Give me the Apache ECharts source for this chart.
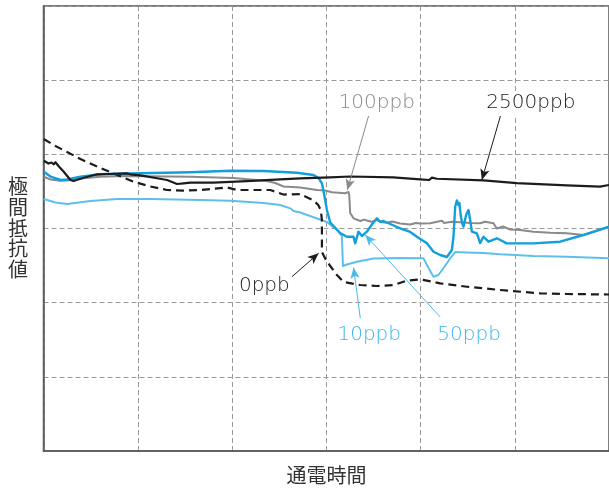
<!DOCTYPE html>
<html>
<head>
<meta charset="utf-8">
<script src="https://cdn.jsdelivr.net/npm/echarts@6/dist/echarts.min.js"></script>
<style>
  html, body { margin: 0; padding: 0; background: #fff; }
  #chart { width: 609px; height: 488px; }
</style>
</head>
<body>
<div id="chart"></div>
<script>
// Resistance between electrodes vs. energizing time, one trace per concentration.
// Each point is [time, resistance] in relative grid units (0..6 on both axes).

const ppb2500 = [
  [0.003, 3.914], [0.053, 3.876], [0.085, 3.890], [0.109, 3.866], [0.127, 3.893],
  [0.159, 3.843], [0.215, 3.766], [0.286, 3.654], [0.318, 3.640], [0.427, 3.685],
  [0.569, 3.731], [0.675, 3.735], [0.887, 3.744], [0.922, 3.731], [1.028, 3.717],
  [1.205, 3.677], [1.311, 3.654], [1.417, 3.600], [1.487, 3.609], [1.558, 3.618],
  [1.805, 3.618], [2.159, 3.640], [2.512, 3.663], [2.724, 3.677], [3.042, 3.688],
  [3.254, 3.701], [3.710, 3.690], [3.997, 3.663], [4.092, 3.654], [4.121, 3.685],
  [4.174, 3.671], [4.668, 3.650], [5.022, 3.613], [5.552, 3.582], [5.905, 3.564],
  [6.000, 3.587]
];

const ppb100 = [
  [0.003, 3.698], [0.074, 3.661], [0.180, 3.644], [0.251, 3.647], [0.392, 3.674],
  [0.604, 3.698], [0.851, 3.708], [1.558, 3.698], [2.017, 3.681], [2.371, 3.640],
  [2.459, 3.613], [2.547, 3.566], [2.724, 3.553], [2.901, 3.519], [2.989, 3.512],
  [3.060, 3.488], [3.202, 3.475], [3.236, 3.492], [3.244, 3.452], [3.254, 3.209],
  [3.289, 3.137], [3.361, 3.101], [3.400, 3.120], [3.431, 3.108], [3.480, 3.090],
  [3.538, 3.115], [3.600, 3.085], [3.644, 3.078], [3.700, 3.095], [3.785, 3.067],
  [3.891, 3.054], [3.950, 3.075], [3.997, 3.067], [4.103, 3.070], [4.227, 3.105],
  [4.251, 3.074], [4.330, 3.090], [4.421, 3.084], [4.530, 3.075], [4.633, 3.070],
  [4.686, 3.092], [4.774, 3.070], [4.810, 3.000], [4.876, 3.027], [4.951, 2.987],
  [5.057, 2.980], [5.198, 2.957], [5.375, 2.943], [5.552, 2.935], [5.728, 2.912],
  [5.834, 2.957], [6.000, 3.020]
];

const ppb0 = [
  [0.003, 4.207], [0.127, 4.112], [0.251, 4.031], [0.392, 3.937], [0.604, 3.816],
  [0.781, 3.721], [0.957, 3.631], [1.134, 3.566], [1.311, 3.519], [1.487, 3.512],
  [1.664, 3.519], [1.947, 3.553], [2.053, 3.519], [2.406, 3.519], [2.547, 3.458],
  [2.724, 3.465], [2.865, 3.378], [2.915, 3.317], [2.942, 3.249], [2.954, 3.115],
  [2.954, 2.683], [2.989, 2.595], [3.042, 2.494], [3.113, 2.373], [3.183, 2.279],
  [3.360, 2.238], [3.538, 2.225], [3.713, 2.238], [3.855, 2.296], [3.997, 2.315],
  [4.209, 2.261], [4.492, 2.215], [4.846, 2.171], [5.269, 2.126], [5.552, 2.117],
  [6.000, 2.110]
];

const ppb10 = [
  [0.003, 3.398], [0.127, 3.351], [0.251, 3.330], [0.498, 3.371], [0.781, 3.398],
  [1.134, 3.398], [1.664, 3.384], [1.982, 3.375], [2.335, 3.344], [2.512, 3.317],
  [2.618, 3.272], [2.653, 3.236], [2.724, 3.216], [3.007, 3.088], [3.113, 2.980],
  [3.166, 2.899], [3.177, 2.494], [3.219, 2.515], [3.325, 2.552], [3.501, 2.596],
  [3.785, 2.602], [4.031, 2.598], [4.085, 2.467], [4.138, 2.350], [4.190, 2.373],
  [4.244, 2.467], [4.315, 2.596], [4.368, 2.683], [4.492, 2.676], [4.668, 2.670],
  [4.846, 2.652], [5.004, 2.643], [5.198, 2.629], [5.552, 2.620], [6.000, 2.598]
];

const ppb50 = [
  [0.003, 3.766], [0.074, 3.701], [0.180, 3.654], [0.251, 3.661], [0.392, 3.698],
  [0.604, 3.731], [1.028, 3.744], [1.558, 3.758], [1.982, 3.779], [2.335, 3.775],
  [2.689, 3.752], [2.865, 3.721], [2.918, 3.681], [2.954, 3.609], [2.979, 3.452],
  [3.007, 3.249], [3.042, 3.081], [3.148, 2.939], [3.219, 2.889], [3.289, 2.889],
  [3.307, 2.800], [3.342, 2.957], [3.379, 2.899], [3.431, 2.957], [3.488, 3.061],
  [3.538, 3.137], [3.573, 3.088], [3.608, 3.101], [3.679, 3.061], [3.785, 3.003],
  [3.891, 2.953], [3.962, 2.889], [4.068, 2.800], [4.138, 2.687], [4.209, 2.643],
  [4.280, 2.616], [4.333, 2.710], [4.350, 2.889], [4.368, 3.294], [4.386, 3.378],
  [4.403, 3.317], [4.413, 3.344], [4.426, 3.182], [4.442, 3.074], [4.456, 3.024],
  [4.484, 3.182], [4.509, 3.249], [4.527, 3.115], [4.545, 2.957], [4.598, 2.935],
  [4.633, 2.804], [4.668, 2.889], [4.721, 2.822], [4.810, 2.868], [4.916, 2.800],
  [5.198, 2.800], [5.481, 2.822], [5.728, 2.912], [6.000, 3.024]
];

// Callout text, the point where it sits, and the leader arrow (tail -> head).
const callouts = [
  { name: '100ppb',  at: [3.536, 4.692], tail: [3.449, 4.517], head: [3.223, 3.519] },
  { name: '2500ppb', at: [5.171, 4.692], tail: [4.848, 4.517], head: [4.651, 3.654] },
  { name: '0ppb',    at: [2.343, 2.225], tail: [2.636, 2.350], head: [2.919, 2.666] },
  { name: '10ppb',   at: [3.456, 1.564], tail: [3.361, 1.793], head: [3.290, 2.474] },
  { name: '50ppb',   at: [4.516, 1.564], tail: [4.209, 1.807], head: [3.414, 2.912] }
];

const yTitle = '極間抵抗値';
const xTitle = '通電時間';

const colors = {
  '2500ppb': '#1c1c1c',
  '100ppb': '#8a8a8a',
  '0ppb': '#1c1c1c',
  '10ppb': '#5dc0ec',
  '50ppb': '#129fdc'
};
const textColors = {
  '2500ppb': '#222222',
  '100ppb': '#8a8a8a',
  '0ppb': '#222222',
  '10ppb': '#3cb8ea',
  '50ppb': '#3cb8ea'
};
const arrowColors = {
  '2500ppb': '#1c1c1c',
  '100ppb': '#8a8a8a',
  '0ppb': '#1c1c1c',
  '10ppb': '#4cbbea',
  '50ppb': '#4cbbea'
};

function arrowFor(name) {
  const c = callouts.find(o => o.name === name);
  return {
    silent: true,
    animation: false,
    symbol: ['none', 'arrow'],
    symbolSize: [7, 11],
    label: { show: false },
    lineStyle: { color: arrowColors[name], width: 1, type: 'solid' },
    emphasis: { disabled: true },
    data: [[{ coord: c.tail }, { coord: c.head }]]
  };
}

function lineSeries(name, data, width, dashed) {
  return {
    name: name,
    type: 'line',
    data: data,
    showSymbol: false,
    symbol: 'none',
    smooth: false,
    animation: false,
    lineStyle: {
      color: colors[name],
      width: width,
      type: dashed ? [8, 5] : 'solid',
      cap: 'butt',
      join: 'round'
    },
    markLine: arrowFor(name)
  };
}

const chart = echarts.init(document.getElementById('chart'), null, { renderer: 'canvas' });

const axisCommon = {
  type: 'value',
  min: 0,
  max: 6,
  interval: 1,
  axisLine: { show: true, lineStyle: { color: '#555', width: 1.5 } },
  axisTick: { show: false },
  axisLabel: { show: false },
  splitLine: { show: true, lineStyle: { color: '#9a9a9a', width: 1, type: [5, 3] } }
};

chart.setOption({
  backgroundColor: '#ffffff',
  animation: false,
  grid: {
    left: 43.5, right: -2.5, top: 6, bottom: 37,
    show: true, borderColor: '#555', borderWidth: 1.5, backgroundColor: 'transparent'
  },
  xAxis: Object.assign({}, axisCommon),
  yAxis: Object.assign({}, axisCommon),
  series: [
    lineSeries('10ppb', ppb10, 2),
    lineSeries('100ppb', ppb100, 2),
    lineSeries('0ppb', ppb0, 2.2, true),
    lineSeries('50ppb', ppb50, 2.4),
    lineSeries('2500ppb', ppb2500, 2.2)
  ]
});

// Callout labels and axis titles placed through the grid's own coordinate system.
const labelFont = '"DejaVu Sans", sans-serif';
const graphics = callouts.map(c => {
  const p = chart.convertToPixel({ gridIndex: 0 }, c.at);
  return {
    type: 'text',
    x: p[0], y: p[1],
    z: 100,
    style: {
      text: c.name,
      fill: textColors[c.name],
      font: '200 20px ' + labelFont,
      textAlign: 'center',
      textVerticalAlign: 'middle',
      backgroundColor: '#fff',
      padding: [2, 2]
    }
  };
});

graphics.push({
  type: 'text',
  x: 18, y: 228,
  style: {
    text: yTitle.split('').join('\n'),
    fill: '#333',
    font: '20px "Noto Sans CJK JP", sans-serif',
    lineHeight: 20.7,
    textAlign: 'center',
    textVerticalAlign: 'middle'
  }
});
graphics.push({
  type: 'text',
  x: 326.5, y: 475,
  style: {
    text: xTitle,
    fill: '#333',
    font: '20px "Noto Sans CJK JP", sans-serif',
    textAlign: 'center',
    textVerticalAlign: 'middle'
  }
});

chart.setOption({ graphic: graphics });
</script>
</body>
</html>
